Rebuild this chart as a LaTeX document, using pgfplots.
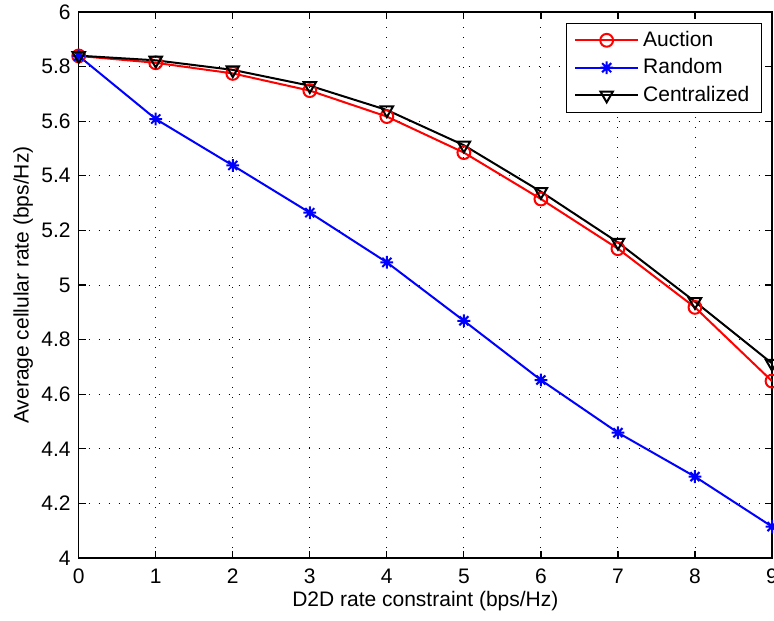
\documentclass[border=0pt]{standalone}
\usepackage{pgfplots}
\pgfplotsset{compat=1.18}
\usepackage{fontspec}
\setmainfont{Liberation Sans}

\pgfdeclareplotmark{mstar}{%
  \pgfpathmoveto{\pgfqpoint{-\pgfplotmarksize}{0pt}}%
  \pgfpathlineto{\pgfqpoint{\pgfplotmarksize}{0pt}}%
  \pgfpathmoveto{\pgfqpoint{0pt}{-\pgfplotmarksize}}%
  \pgfpathlineto{\pgfqpoint{0pt}{\pgfplotmarksize}}%
  \pgfpathmoveto{\pgfqpoint{-0.707\pgfplotmarksize}{-0.707\pgfplotmarksize}}%
  \pgfpathlineto{\pgfqpoint{0.707\pgfplotmarksize}{0.707\pgfplotmarksize}}%
  \pgfpathmoveto{\pgfqpoint{-0.707\pgfplotmarksize}{0.707\pgfplotmarksize}}%
  \pgfpathlineto{\pgfqpoint{0.707\pgfplotmarksize}{-0.707\pgfplotmarksize}}%
  \pgfusepathqstroke}

\pgfplotsset{longlegend/.style={
  legend image code/.code={%
    \draw (0pt,0pt) -- (31.5pt,0pt);
    \draw[only marks] plot coordinates {(15.75pt,0pt)};}}}

\pgfplotstableread{
x auction random central
0 5.839 5.839 5.840
1 5.814 5.608 5.823
2 5.775 5.438 5.788
3 5.712 5.265 5.730
4 5.617 5.083 5.641
5 5.485 4.869 5.512
6 5.315 4.652 5.342
7 5.133 4.459 5.156
8 4.918 4.298 4.939
9 4.648 4.115 4.713
}\datatable

\begin{document}
\begin{tikzpicture}
\begin{axis}[
  scale only axis,
  width=346.65pt, height=273pt,
  xmin=0, xmax=9, ymin=4, ymax=6,
  xtick={0,1,2,3,4,5,6,7,8,9},
  ytick={4,4.2,4.4,4.6,4.8,5,5.2,5.4,5.6,5.8,6},
  yticklabels={4,4.2,4.4,4.6,4.8,5,5.2,5.4,5.6,5.8,6},
  tick align=inside,
  xtick pos=both, ytick pos=both,
  major tick length=3.5pt,
  grid=major,
  major grid style={black, line width=0.45pt, dash pattern=on 0.6pt off 4.4pt},
  axis line style={line width=0.6pt},
  every tick/.style={black, line width=0.6pt},
  /pgf/number format/assume math mode=true,
  ticklabel style={font=\fontsize{10.5}{12}\selectfont},
  xticklabel style={yshift=-2pt},
  yticklabel style={xshift=-0.5pt},
  xlabel={D2D rate constraint (bps/Hz)},
  ylabel={Average cellular rate (bps/Hz)},
  label style={font=\fontsize{10.5}{12}\selectfont},
  xlabel style={at={(axis description cs:0.5,-0.0788)}, anchor=center},
  ylabel style={at={(axis description cs:-0.0802,0.5)}, anchor=center, rotate=0},
  legend style={at={(1,1)}, anchor=north east, xshift=-5pt, yshift=-5.3pt,
    draw=black, line width=0.6pt, fill=white,
    font=\fontsize{10.5}{12}\selectfont,
    row sep=0.6pt, inner xsep=4pt, inner ysep=2pt},
  legend cell align=left,
]
\addplot[red, line width=1pt, mark=o, mark size=3.2pt, mark options={solid, line width=1pt}, longlegend]
  table[x=x, y=auction] {\datatable};
\addlegendentry{Auction}
\addplot[blue, line width=1pt, mark=mstar, mark size=3.2pt, mark options={solid, line width=1pt}, longlegend]
  table[x=x, y=random] {\datatable};
\addlegendentry{Random}
\addplot[black, line width=1pt, mark=triangle, mark size=3.6pt, mark options={solid, line width=1pt, rotate=180}, longlegend]
  table[x=x, y=central] {\datatable};
\addlegendentry{Centralized}
\end{axis}
\pgfresetboundingbox
\path (-39.35pt,-31pt) rectangle (347.65pt,279pt);
\end{tikzpicture}
\end{document}
